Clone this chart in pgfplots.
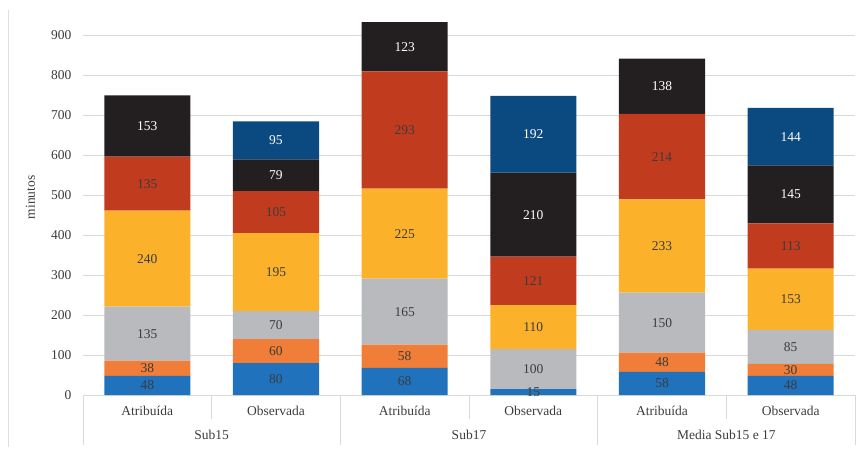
\documentclass[border=0pt]{standalone}
\usepackage{pgfplots}
\pgfplotsset{compat=1.18}
\usepackage{pgfplotstable}
\usepackage{fontspec}
\setmainfont{Liberation Serif}
\definecolor{cblue}{RGB}{32,114,189}
\definecolor{corange}{RGB}{240,125,56}
\definecolor{cgray}{RGB}{185,186,189}
\definecolor{cyellow}{RGB}{251,178,42}
\definecolor{cred}{RGB}{193,59,30}
\definecolor{cblack}{RGB}{35,31,32}
\definecolor{cdblue}{RGB}{10,74,128}
\definecolor{ctext}{RGB}{60,60,60}
\definecolor{cgrid}{RGB}{217,217,217}
\pgfplotstableread{
x blue orange gray yellow red black dblue
0 48 38 135 240 135 153 0
1 80 60 70 195 105 79 95
2 68 58 165 225 293 123 0
3 15 0 100 110 121 210 192
4 58 48 150 233 214 138 0
5 48 30 85 153 113 145 144
}\datatable
\begin{document}
\fontsize{13.5}{16}\selectfont
\begin{tikzpicture}
\useasboundingbox (0,0) rectangle (862pt,451pt);
\draw[gray!25, line width=0.6pt] (8pt,4pt) -- (8pt,441pt);
\begin{axis}[
  at={(83pt,56pt)}, anchor=south west,
  scale only axis, width=772pt, height=380pt,
  ybar stacked, bar width=86pt,
  xmin=-0.5, xmax=5.5, ymin=0, ymax=950,
  xtick=data,
  xticklabels={Atribuída,Observada,Atribuída,Observada,Atribuída,Observada},
  ytick={0,100,...,900},
  ymajorgrids, grid style={cgrid, line width=0.8pt},
  axis line style={draw=none},
  major tick length=0pt,
  /pgf/number format/assume math mode=true,
  tick label style={font=\fontsize{13.5}{16}\selectfont, text=ctext},
  xticklabel style={anchor=center, yshift=-16pt},
  yticklabel style={anchor=east, xshift=-7pt},
  ylabel={minutos},
  ylabel style={at={(axis description cs:-0.068,0.52)}, anchor=center, font=\fontsize{13.5}{16}\selectfont, text=ctext},
  clip=false,
  point meta=rawy,
  nodes near coords={\pgfmathfloatifflags{\pgfplotspointmeta}{0}{}{\pgfmathprintnumber{\pgfplotspointmeta}}},
  every node near coord/.append style={anchor=center, font=\fontsize{13.5}{16}\selectfont, text=ctext},
]
\addplot[fill=cblue, draw=none] table[x=x, y=blue] {\datatable};
\addplot[fill=corange, draw=none] table[x=x, y=orange] {\datatable};
\addplot[fill=cgray, draw=none] table[x=x, y=gray] {\datatable};
\addplot[fill=cyellow, draw=none] table[x=x, y=yellow] {\datatable};
\addplot[fill=cred, draw=none] table[x=x, y=red] {\datatable};
\addplot[fill=cblack, draw=none, every node near coord/.append style={text=white}] table[x=x, y=black] {\datatable};
\addplot[fill=cdblue, draw=none, every node near coord/.append style={text=white}] table[x=x, y=dblue] {\datatable};
% category separators
\draw[cgrid, line width=0.8pt] (axis cs:0.5,0) -- ++(0pt,-24pt);
\draw[cgrid, line width=0.8pt] (axis cs:2.5,0) -- ++(0pt,-24pt);
\draw[cgrid, line width=0.8pt] (axis cs:4.5,0) -- ++(0pt,-24pt);
\draw[cgrid, line width=0.8pt] (axis cs:-0.5,0) -- ++(0pt,-50pt);
\draw[cgrid, line width=0.8pt] (axis cs:1.5,0) -- ++(0pt,-50pt);
\draw[cgrid, line width=0.8pt] (axis cs:3.5,0) -- ++(0pt,-50pt);
\draw[cgrid, line width=0.8pt] (axis cs:5.5,0) -- ++(0pt,-50pt);
\node[text=ctext, anchor=center] at ([yshift=-40pt]axis cs:0.5,0) {Sub15};
\node[text=ctext, anchor=center] at ([yshift=-40pt]axis cs:2.5,0) {Sub17};
\node[text=ctext, anchor=center] at ([yshift=-40pt]axis cs:4.5,0) {Media Sub15 e 17};
\end{axis}
\end{tikzpicture}
\end{document}
